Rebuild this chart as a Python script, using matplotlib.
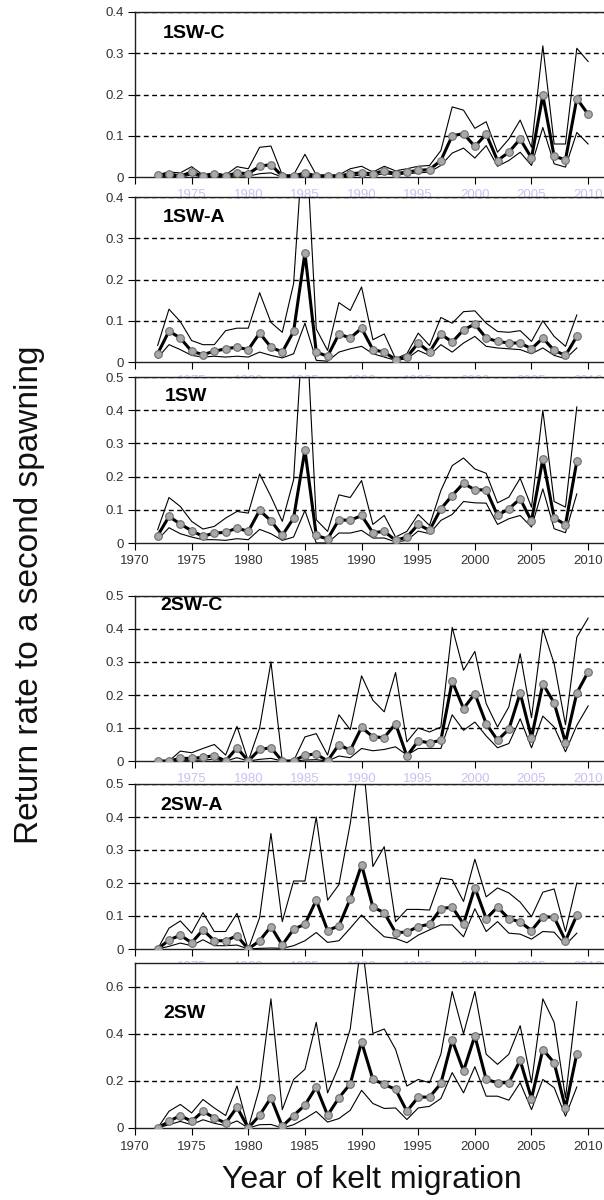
import numpy as np
import matplotlib
matplotlib.use('Agg')
import matplotlib.pyplot as plt

plt.rcParams['font.family'] = ['Liberation Sans', 'DejaVu Sans']

years = list(range(1972, 2011))

# 1SW-C
c1_mean = [0.004, 0.008, 0.002, 0.012, 0.002, 0.008, 0.002, 0.01, 0.008, 0.026, 0.03, 0.002, 0.002, 0.01, 0.002, 0.002, 0.002, 0.008,
           0.01, 0.008, 0.015, 0.008, 0.012, 0.016, 0.018, 0.04, 0.1, 0.105, 0.074, 0.104, 0.04, 0.06, 0.092, 0.046, 0.198, 0.05, 0.042, 0.19, 0.152]
c1_up = [0.006, 0.012, 0.01, 0.025, 0.005, 0.01, 0.005, 0.025, 0.02, 0.072, 0.075, 0.005, 0.005, 0.055, 0.005, 0.005, 0.005, 0.02,
         0.026, 0.012, 0.026, 0.015, 0.02, 0.026, 0.028, 0.064, 0.17, 0.162, 0.118, 0.134, 0.06, 0.092, 0.138, 0.072, 0.318, 0.08, 0.08, 0.312, 0.28]
c1_lo = [0.001, 0.002, 0.0, 0.005, 0.0, 0.002, 0.0, 0.003, 0.002, 0.008, 0.01, 0.0, 0.0, 0.003, 0.0, 0.0, 0.0, 0.002,
         0.005, 0.003, 0.008, 0.005, 0.008, 0.01, 0.012, 0.028, 0.058, 0.07, 0.046, 0.076, 0.026, 0.04, 0.06, 0.028, 0.12, 0.032, 0.024, 0.108, 0.08]

# 1SW-A
a1_mean = [0.02, 0.075, 0.058, 0.026, 0.018, 0.026, 0.032, 0.036, 0.03, 0.07, 0.036, 0.024, 0.074, 0.264, 0.024, 0.014, 0.068, 0.058,
           0.082, 0.03, 0.024, 0.006, 0.012, 0.046, 0.024, 0.068, 0.048, 0.078, 0.092, 0.058, 0.05, 0.046, 0.046, 0.032, 0.058, 0.028, 0.016, 0.062]
a1_up = [0.04, 0.128, 0.098, 0.052, 0.042, 0.042, 0.076, 0.082, 0.082, 0.168, 0.096, 0.072, 0.19, 0.6, 0.08, 0.028, 0.144, 0.125,
         0.182, 0.054, 0.068, 0.008, 0.02, 0.07, 0.04, 0.108, 0.094, 0.122, 0.124, 0.094, 0.074, 0.072, 0.076, 0.05, 0.1, 0.062, 0.038, 0.114]
a1_lo = [0.01, 0.042, 0.03, 0.016, 0.012, 0.014, 0.012, 0.014, 0.012, 0.024, 0.016, 0.01, 0.02, 0.094, 0.004, 0.002, 0.024, 0.032,
         0.038, 0.02, 0.012, 0.004, 0.008, 0.028, 0.016, 0.042, 0.024, 0.046, 0.062, 0.038, 0.034, 0.032, 0.03, 0.02, 0.034, 0.016, 0.008, 0.034]

# 1SW
s1_mean = [0.022, 0.08, 0.057, 0.037, 0.02, 0.03, 0.032, 0.045, 0.035, 0.098, 0.067, 0.023, 0.075, 0.28, 0.023, 0.012, 0.07, 0.068,
           0.083, 0.031, 0.035, 0.008, 0.018, 0.056, 0.038, 0.103, 0.143, 0.18, 0.16, 0.16, 0.083, 0.103, 0.133, 0.066, 0.253, 0.076, 0.055, 0.246]
s1_up = [0.04, 0.137, 0.11, 0.065, 0.042, 0.05, 0.075, 0.095, 0.09, 0.208, 0.14, 0.065, 0.19, 0.75, 0.07, 0.035, 0.145, 0.137,
         0.188, 0.056, 0.083, 0.018, 0.035, 0.086, 0.053, 0.158, 0.233, 0.256, 0.223, 0.21, 0.121, 0.138, 0.195, 0.108, 0.4, 0.125, 0.108, 0.41]
s1_lo = [0.01, 0.046, 0.028, 0.018, 0.01, 0.01, 0.008, 0.013, 0.01, 0.041, 0.028, 0.008, 0.018, 0.098, 0.0, 0.0, 0.03, 0.03,
         0.038, 0.015, 0.015, 0.003, 0.008, 0.036, 0.028, 0.068, 0.086, 0.125, 0.121, 0.12, 0.056, 0.073, 0.083, 0.048, 0.163, 0.043, 0.031, 0.148]

# 2SW-C
c2_mean = [0, 0, 0.008, 0.008, 0.011, 0.016, 0, 0.04, 0, 0.035, 0.04, 0, 0, 0.018, 0.021, 0, 0.05, 0.032,
           0.102, 0.073, 0.071, 0.113, 0.015, 0.061, 0.055, 0.063, 0.242, 0.159, 0.204, 0.113, 0.063, 0.096, 0.206, 0.071, 0.234, 0.176, 0.056, 0.206, 0.27]
c2_up = [0, 0, 0.03, 0.025, 0.038, 0.05, 0.018, 0.105, 0, 0.1, 0.3, 0, 0, 0.073, 0.083, 0.018, 0.14, 0.095,
         0.258, 0.184, 0.149, 0.268, 0.058, 0.1, 0.088, 0.103, 0.405, 0.275, 0.332, 0.174, 0.103, 0.164, 0.325, 0.131, 0.4, 0.295, 0.11, 0.375, 0.433]
c2_lo = [0, 0, 0.002, 0.002, 0.003, 0.005, 0, 0.01, 0, 0.005, 0.008, 0, 0, 0.003, 0.004, 0, 0.015, 0.01,
         0.038, 0.031, 0.035, 0.043, 0.018, 0.038, 0.038, 0.038, 0.14, 0.093, 0.118, 0.076, 0.04, 0.053, 0.128, 0.04, 0.136, 0.103, 0.028, 0.108, 0.167]

# 2SW-A
a2_mean = [0, 0.027, 0.042, 0.019, 0.058, 0.025, 0.025, 0.04, 0, 0.025, 0.068, 0.012, 0.06, 0.075, 0.148, 0.056, 0.07, 0.152,
           0.255, 0.127, 0.11, 0.05, 0.051, 0.068, 0.075, 0.122, 0.127, 0.076, 0.186, 0.092, 0.127, 0.092, 0.082, 0.056, 0.098, 0.096, 0.025, 0.102]
a2_up = [0, 0.063, 0.085, 0.048, 0.11, 0.053, 0.053, 0.108, 0, 0.095, 0.35, 0.083, 0.206, 0.206, 0.4, 0.148, 0.195, 0.38,
         0.62, 0.25, 0.31, 0.083, 0.12, 0.12, 0.118, 0.215, 0.21, 0.144, 0.272, 0.158, 0.185, 0.17, 0.142, 0.098, 0.172, 0.182, 0.053, 0.2]
a2_lo = [0, 0.008, 0.018, 0.01, 0.028, 0.01, 0.01, 0.012, 0, 0.002, 0.003, 0.002, 0.01, 0.025, 0.05, 0.02, 0.025, 0.063,
         0.103, 0.068, 0.037, 0.032, 0.019, 0.042, 0.058, 0.073, 0.073, 0.037, 0.122, 0.053, 0.083, 0.048, 0.045, 0.03, 0.053, 0.051, 0.012, 0.048]

# 2SW
s2_mean = [0, 0.028, 0.053, 0.028, 0.071, 0.043, 0.021, 0.088, 0, 0.054, 0.128, 0.007, 0.053, 0.097, 0.174, 0.054, 0.128, 0.187,
           0.365, 0.206, 0.185, 0.164, 0.071, 0.131, 0.131, 0.189, 0.373, 0.242, 0.391, 0.206, 0.192, 0.192, 0.287, 0.125, 0.333, 0.277, 0.085, 0.315]
s2_up = [0, 0.071, 0.1, 0.064, 0.121, 0.085, 0.053, 0.178, 0, 0.171, 0.548, 0.078, 0.206, 0.249, 0.448, 0.149, 0.263, 0.42,
         0.8, 0.401, 0.42, 0.334, 0.178, 0.206, 0.192, 0.313, 0.579, 0.4, 0.579, 0.313, 0.27, 0.313, 0.434, 0.192, 0.548, 0.448, 0.128, 0.536]
s2_lo = [0, 0.014, 0.028, 0.014, 0.035, 0.02, 0.01, 0.03, 0, 0.014, 0.015, 0, 0.014, 0.04, 0.07, 0.025, 0.04, 0.075,
         0.16, 0.104, 0.083, 0.085, 0.036, 0.085, 0.092, 0.125, 0.235, 0.149, 0.26, 0.135, 0.135, 0.118, 0.192, 0.078, 0.206, 0.171, 0.05, 0.174]

panels = [
    ('1SW-C', c1_mean, c1_up, c1_lo, 0.4, [0, 0.1, 0.2, 0.3, 0.4]),
    ('1SW-A', a1_mean, a1_up, a1_lo, 0.4, [0, 0.1, 0.2, 0.3, 0.4]),
    ('1SW', s1_mean, s1_up, s1_lo, 0.5, [0, 0.1, 0.2, 0.3, 0.4, 0.5]),
    ('2SW-C', c2_mean, c2_up, c2_lo, 0.5, [0, 0.1, 0.2, 0.3, 0.4, 0.5]),
    ('2SW-A', a2_mean, a2_up, a2_lo, 0.5, [0, 0.1, 0.2, 0.3, 0.4, 0.5]),
    ('2SW', s2_mean, s2_up, s2_lo, 0.7, [0, 0.2, 0.4, 0.6]),
]
xticks = [1970, 1975, 1980, 1985, 1990, 1995, 2000, 2005, 2010]

W, H = 604, 1200
# panel top / bottom in pixels, title position in pixels
boxes = [(12, 177), (197, 362), (377, 543), (596, 761), (784, 949), (963, 1128)]
title_pos = [(163, 33), (163, 218), (165, 396), (160, 605), (160, 805), (163, 1013)]
real_labels = [False, False, True, False, False, True]


def main():
    fig = plt.figure(figsize=(W / 100, H / 100), dpi=100)
    left = 135 / W
    for i, (name, mean, up, lo, top, yt) in enumerate(panels):
        t, b = boxes[i]
        ax = fig.add_axes([left, 1 - b / H, 1 - left, (b - t) / H])
        x = years[:len(mean)]
        ax.plot(x, up, color='black', lw=0.8, zorder=3)
        ax.plot(x, lo, color='black', lw=0.8, zorder=3)
        ax.plot(x, mean, color='black', lw=2.2, marker='o', ms=5.5,
                mfc='#a8a8a8', mec='#6e6e6e', mew=0.8, zorder=4)
        ax.set_xlim(1970, 2011.4)
        ax.set_ylim(0, top)
        ax.set_yticks(yt)
        ax.set_yticklabels(['0' if v == 0 else f'{v:g}' for v in yt])
        ax.set_xticks(xticks)
        for v in yt[1:]:
            ax.axhline(v, color='black', lw=1.0, ls=(0, (3.5, 2.5)), zorder=1)
        ax.spines['right'].set_visible(False)
        for s in ['left', 'top', 'bottom']:
            ax.spines[s].set_linewidth(1.0)
            ax.spines[s].set_color('#202020')
        ax.tick_params(axis='y', direction='out', length=5, labelsize=9.5,
                       labelcolor='#333333', pad=3)
        if real_labels[i]:
            ax.tick_params(axis='x', direction='out', length=5, labelsize=9.5,
                           labelcolor='#333333', pad=4)
        else:
            # faint leftover labels, as in the source figure
            ax.set_xticklabels([''] + [str(v) for v in xticks[1:]])
            ax.tick_params(axis='x', direction='out', length=5, labelsize=9.5,
                           labelcolor='#cdbff0', pad=4)
        tx, ty = title_pos[i]
        fig.text(tx / W, 1 - ty / H, name, fontsize=14, fontweight='bold',
                 va='center', ha='left')

    fig.text(30 / W, 1 - 595 / H, 'Return rate to a second spawning',
             rotation=90, fontsize=24, va='center', ha='center', color='#111111')
    fig.text(372 / W, 1 - 1180 / H, 'Year of kelt migration',
             fontsize=23, va='center', ha='center', color='#111111')

    plt.savefig('out.png', dpi=100)
    plt.close()


if __name__ == "__main__":
    main()
